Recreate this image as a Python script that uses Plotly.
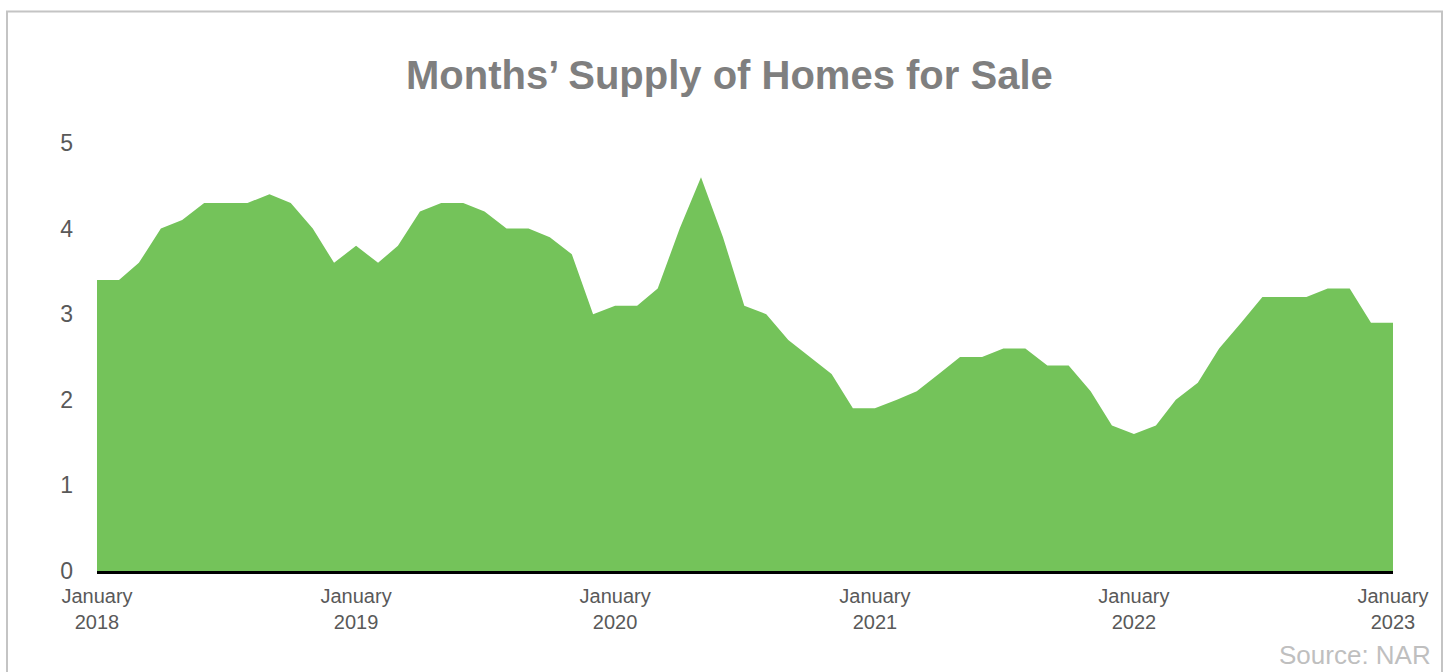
import plotly.graph_objects as go
import pandas as pd

# Monthly months' supply, Jan 2018 - Jan 2023
supply_2018 = [3.4, 3.4, 3.6, 4.0, 4.1, 4.3, 4.3, 4.3, 4.4, 4.3, 4.0, 3.6]
supply_2019 = [3.8, 3.6, 3.8, 4.2, 4.3, 4.3, 4.2, 4.0, 4.0, 3.9, 3.7, 3.0]
supply_2020 = [3.1, 3.1, 3.3, 4.0, 4.6, 3.9, 3.1, 3.0, 2.7, 2.5, 2.3, 1.9]
supply_2021 = [1.9, 2.0, 2.1, 2.3, 2.5, 2.5, 2.6, 2.6, 2.4, 2.4, 2.1, 1.7]
supply_2022 = [1.6, 1.7, 2.0, 2.2, 2.6, 2.9, 3.2, 3.2, 3.2, 3.3, 3.3, 2.9]
supply_2023 = [2.9]
values = supply_2018 + supply_2019 + supply_2020 + supply_2021 + supply_2022 + supply_2023
months = pd.date_range("2018-01-01", periods=len(values), freq="MS")

tick_dates = ["2018-01-01", "2019-01-01", "2020-01-01", "2021-01-01", "2022-01-01", "2023-01-01"]
tick_labels = ["January<br>2018", "January<br>2019", "January<br>2020",
               "January<br>2021", "January<br>2022", "January<br>2023"]
y_ticks = [0, 1, 2, 3, 4, 5]

W, H = 1448, 672
L, R, T, B = 97, 1393, 143, 571  # plot area pixel bounds

def px(x):
    return (x - L) / (R - L)

def py(y):
    return (B - y) / (B - T)

FONT = "Liberation Sans, Arial, sans-serif"

fig = go.Figure()
fig.add_trace(go.Scatter(
    x=months, y=values, mode="lines", line=dict(width=0, color="#74C35A"),
    fill="tozeroy", fillcolor="#74C35A", hoverinfo="x+y", showlegend=False,
))

fig.update_layout(
    width=W, height=H,
    margin=dict(l=L, r=W - R, t=T, b=H - B, pad=0),
    paper_bgcolor="white", plot_bgcolor="white",
    font=dict(family=FONT, color="#595959"),
    xaxis=dict(
        range=[months[0], months[-1]], tickvals=tick_dates, ticktext=tick_labels,
        showgrid=False, zeroline=False, showline=True, linecolor="black", linewidth=3,
        ticks="", tickfont=dict(size=20, color="#595959"), ticklabelstandoff=5,
    ),
    yaxis=dict(
        range=[0, 5], tickvals=y_ticks, showgrid=False, zeroline=False, showline=False,
        ticks="", tickfont=dict(size=23, color="#595959"), ticklabelstandoff=23,
    ),
    shapes=[dict(
        type="rect", xref="paper", yref="paper",
        x0=px(7), x1=px(1442), y0=py(700), y1=py(11.5),
        line=dict(color="#C4C4C4", width=2), fillcolor="rgba(0,0,0,0)", layer="below",
    )],
    annotations=[
        dict(text="<b>Months’ Supply of Homes for Sale</b>", xref="paper", yref="paper",
             x=px(729), y=py(75), xanchor="center", yanchor="middle", showarrow=False,
             font=dict(size=40, color="#7F7F7F", family=FONT)),
        dict(text="Source: NAR", xref="paper", yref="paper",
             x=px(1433), y=py(655), xanchor="right", yanchor="middle", showarrow=False,
             font=dict(size=26, color="#BFBFBF", family=FONT)),
    ],
)

fig.write_html("out.html")
